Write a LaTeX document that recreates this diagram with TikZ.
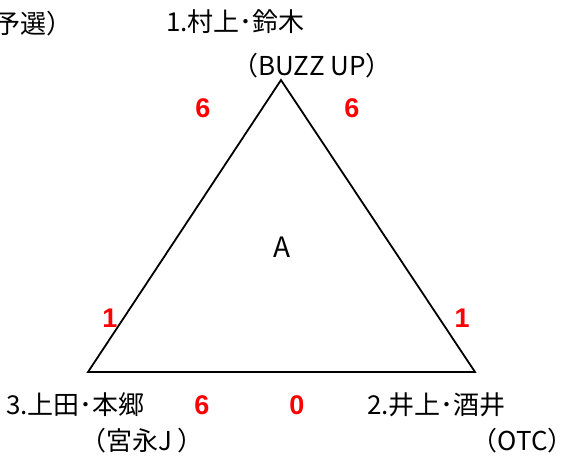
\documentclass[tikz,border=0pt]{standalone}
\usepackage{fontspec}
\newfontfamily\jp{Noto Sans CJK JP}
\newfontfamily\num{Liberation Sans}
\begin{document}
\begin{tikzpicture}[x=1pt,y=-1pt,
  lbl/.style={font=\jp\fontsize{26}{28}\selectfont, inner sep=0pt},
  score/.style={font=\num\bfseries\fontsize{27}{29}\selectfont, text=red, inner sep=0pt},
  edge/.style={draw=black, line width=1.8pt, line join=miter}]
\useasboundingbox (0,0) rectangle (564,456);
\node[lbl, anchor=east] (title) at (73,24) {予選）};
\node[lbl, anchor=west] (p1) at (166,22) {1.村上･鈴木};
\node[lbl] (t1) at (312,66) {（BUZZ UP）};
\coordinate (top) at (281,80);
\coordinate (bl) at (88,372);
\coordinate (br) at (475,372);
\draw[edge] (top) -- (br) -- (bl) -- cycle;
\node[lbl, font=\jp\fontsize{28}{30}\selectfont] (a) at (282,247) {A};
\node[score] (s1) at (203,108) {6};
\node[score] (s2) at (352,108) {6};
\node[score] (s3) at (110,318) {1};
\node[score] (s4) at (462,318) {1};
\node[score] (s5) at (202,405) {6};
\node[score] (s6) at (297,405) {0};
\node[lbl, anchor=west] (p3) at (6,405) {3.上田･本郷};
\node[lbl, anchor=west] (t3) at (80,441) {（宮永J ）};
\node[lbl, anchor=west] (p2) at (367,405) {2.井上･酒井};
\node[lbl, anchor=east] (t2) at (574,441) {（OTC）};
\end{tikzpicture}
\end{document}
